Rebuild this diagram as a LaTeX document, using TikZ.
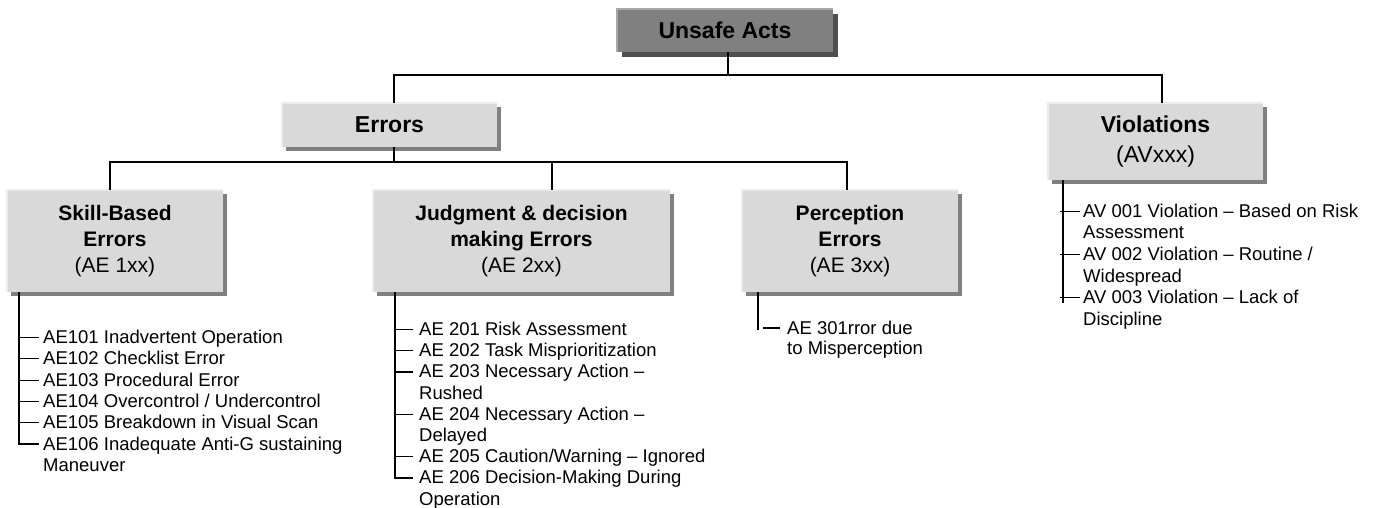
\documentclass[tikz,border=0pt]{standalone}
\usepackage{fontspec}
\setmainfont{Liberation Sans}
\usetikzlibrary{shadows}
\definecolor{boxfill}{HTML}{D9D9D9}
\definecolor{boxshadow}{HTML}{808080}
\definecolor{boxhl}{HTML}{ECECEC}
\definecolor{topfill}{HTML}{808080}
\definecolor{topshadow}{HTML}{505050}
\definecolor{tophl}{HTML}{A8A8A8}
\begin{document}
\begin{tikzpicture}[x=1bp,y=-1bp,
  catbox/.style={rectangle, fill=boxfill, inner sep=0pt, align=center,
    general shadow={fill=boxshadow, shadow xshift=4bp, shadow yshift=-4bp}},
  rootbox/.style={rectangle, fill=topfill, inner sep=0pt, align=center,
    general shadow={fill=topshadow, shadow xshift=5bp, shadow yshift=-5bp}},
  bigfont/.style={font=\fontsize{23bp}{30bp}\selectfont},
  midfont/.style={font=\fontsize{21bp}{26bp}\selectfont},
  item/.style={anchor=base west, inner sep=0pt, font=\fontsize{18.5bp}{21bp}\selectfont},
  conn/.style={draw=black, line width=1.8bp},
  dashline/.style={draw=black, line width=1.2bp}
]
\useasboundingbox (0,0) rectangle (1375,508);

% boxes
\node[rootbox, bigfont, minimum width=216bp, minimum height=43bp] (ua) at (725,30.5) {\textbf{Unsafe Acts}};
\node[catbox, bigfont, minimum width=215bp, minimum height=44bp] (err) at (389.5,125) {\textbf{Errors}};
\node[catbox, bigfont, minimum width=215bp, minimum height=77bp] (vio) at (1155.5,141.5) {\textbf{Violations}\\(AVxxx)};
\node[catbox, midfont, minimum width=216bp, minimum height=102bp] (sk) at (115,241) {\textbf{Skill-Based}\\\textbf{Errors}\\(AE 1xx)};
\node[catbox, midfont, minimum width=297bp, minimum height=102bp] (jd) at (521.5,241) {\textbf{Judgment \& decision}\\\textbf{making Errors}\\(AE 2xx)};
\node[catbox, midfont, minimum width=216bp, minimum height=102bp] (pe) at (850,241) {\textbf{Perception}\\\textbf{Errors}\\(AE 3xx)};

% highlight edges
\draw[tophl, line width=1.5bp] (ua.south west) -- (ua.north west) -- (ua.north east);
\foreach \n in {err,vio,sk,jd,pe}
  \draw[boxhl, line width=1.5bp] (\n.south west) -- (\n.north west) -- (\n.north east);

% bus levels
\coordinate (b1) at (0,75);
\coordinate (b2) at (0,162);

\draw[conn] ([xshift=3bp]ua.south) -- ([xshift=3bp]ua.south |- b1);
\draw[conn] ([xshift=4.5bp]err.north) -- ([xshift=4.5bp]err.north |- b1) -| ([xshift=6.5bp]vio.north);
\draw[conn] ([xshift=4.5bp]err.south) -- ([xshift=4.5bp]err.south |- b2);
\draw[conn] ([xshift=-5bp]sk.north) |- ([xshift=-3bp]pe.north |- b2) -- ([xshift=-3bp]pe.north);
\draw[conn] ([xshift=30.5bp]jd.north) -- ([xshift=30.5bp]jd.north |- b2);

% Skill-based list
\node[item] (a101) at (43,343.5) {AE101 Inadvertent Operation};
\node[item] (a102) at (43,364.8) {AE102 Checklist Error};
\node[item] (a103) at (43,386.1) {AE103 Procedural Error};
\node[item] (a104) at (43,407.4) {AE104 Overcontrol / Undercontrol};
\node[item] (a105) at (43,428.7) {AE105 Breakdown in Visual Scan};
\node[item] (a106) at (43,450.0) {AE106 Inadequate Anti-G sustaining};
\node[item] (a106b) at (43,471.3) {Maneuver};
\coordinate (skl) at ([xshift=12bp]sk.south west);
\foreach \n in {a101,a102,a103,a104,a105,a106}
  \coordinate (d\n) at ([xshift=-4bp,yshift=6bp]\n.base west);
\draw[conn] (skl) |- (da106);
\foreach \n in {a101,a102,a103,a104,a105}
  \draw[dashline] (skl |- d\n) -- (d\n);

% Judgment list
\node[item] (a201) at (419,335.5) {AE 201 Risk Assessment};
\node[item] (a202) at (419,356.7) {AE 202 Task Misprioritization};
\node[item] (a203) at (419,377.9) {AE 203 Necessary Action –};
\node[item] (a203b) at (419,399.1) {Rushed};
\node[item] (a204) at (419,420.3) {AE 204 Necessary Action –};
\node[item] (a204b) at (419,441.5) {Delayed};
\node[item] (a205) at (419,462.7) {AE 205 Caution/Warning – Ignored};
\node[item] (a206) at (419,483.9) {AE 206 Decision-Making During};
\node[item] (a206b) at (419,505.1) {Operation};
\coordinate (jdl) at ([xshift=22bp]jd.south west);
\foreach \n in {a201,a202,a203,a204,a205,a206}
  \coordinate (d\n) at ([xshift=-6bp,yshift=6bp]\n.base west);
\draw[conn] (jdl) |- (da206);
\foreach \n in {a201,a202,a203,a204,a205}
  \draw[dashline] (jdl |- d\n) -- (d\n);

% Perception list
\node[item] (a301) at (787,334) {AE 301rror due};
\node[item] (a301b) at (787,354.5) {to Misperception};
\coordinate (pel) at ([xshift=16bp]pe.south west);
\coordinate (peend) at ([xshift=16bp,yshift=-38bp]pe.south west);
\draw[conn] (pel) -- (peend);
\draw[dashline] ([xshift=-24bp,yshift=6bp]a301.base west) -- ([xshift=-7bp,yshift=6bp]a301.base west);

% Violations list
\node[item] (v001) at (1083,217.5) {AV 001 Violation – Based on Risk};
\node[item] (v001b) at (1083,239) {Assessment};
\node[item] (v002) at (1083,260.5) {AV 002 Violation – Routine /};
\node[item] (v002b) at (1083,282) {Widespread};
\node[item] (v003) at (1083,303.5) {AV 003 Violation – Lack of};
\node[item] (v003b) at (1083,325) {Discipline};
\coordinate (vil) at ([xshift=15bp]vio.south west);
\coordinate (vend) at ([yshift=1bp]v003.base west);
\draw[conn] (vil) -- (vil |- vend);
\foreach \n in {v001,v002,v003}
  \draw[dashline] ([xshift=-23bp,yshift=6bp]\n.base west) -- ([xshift=-3bp,yshift=6bp]\n.base west);
\end{tikzpicture}
\end{document}
